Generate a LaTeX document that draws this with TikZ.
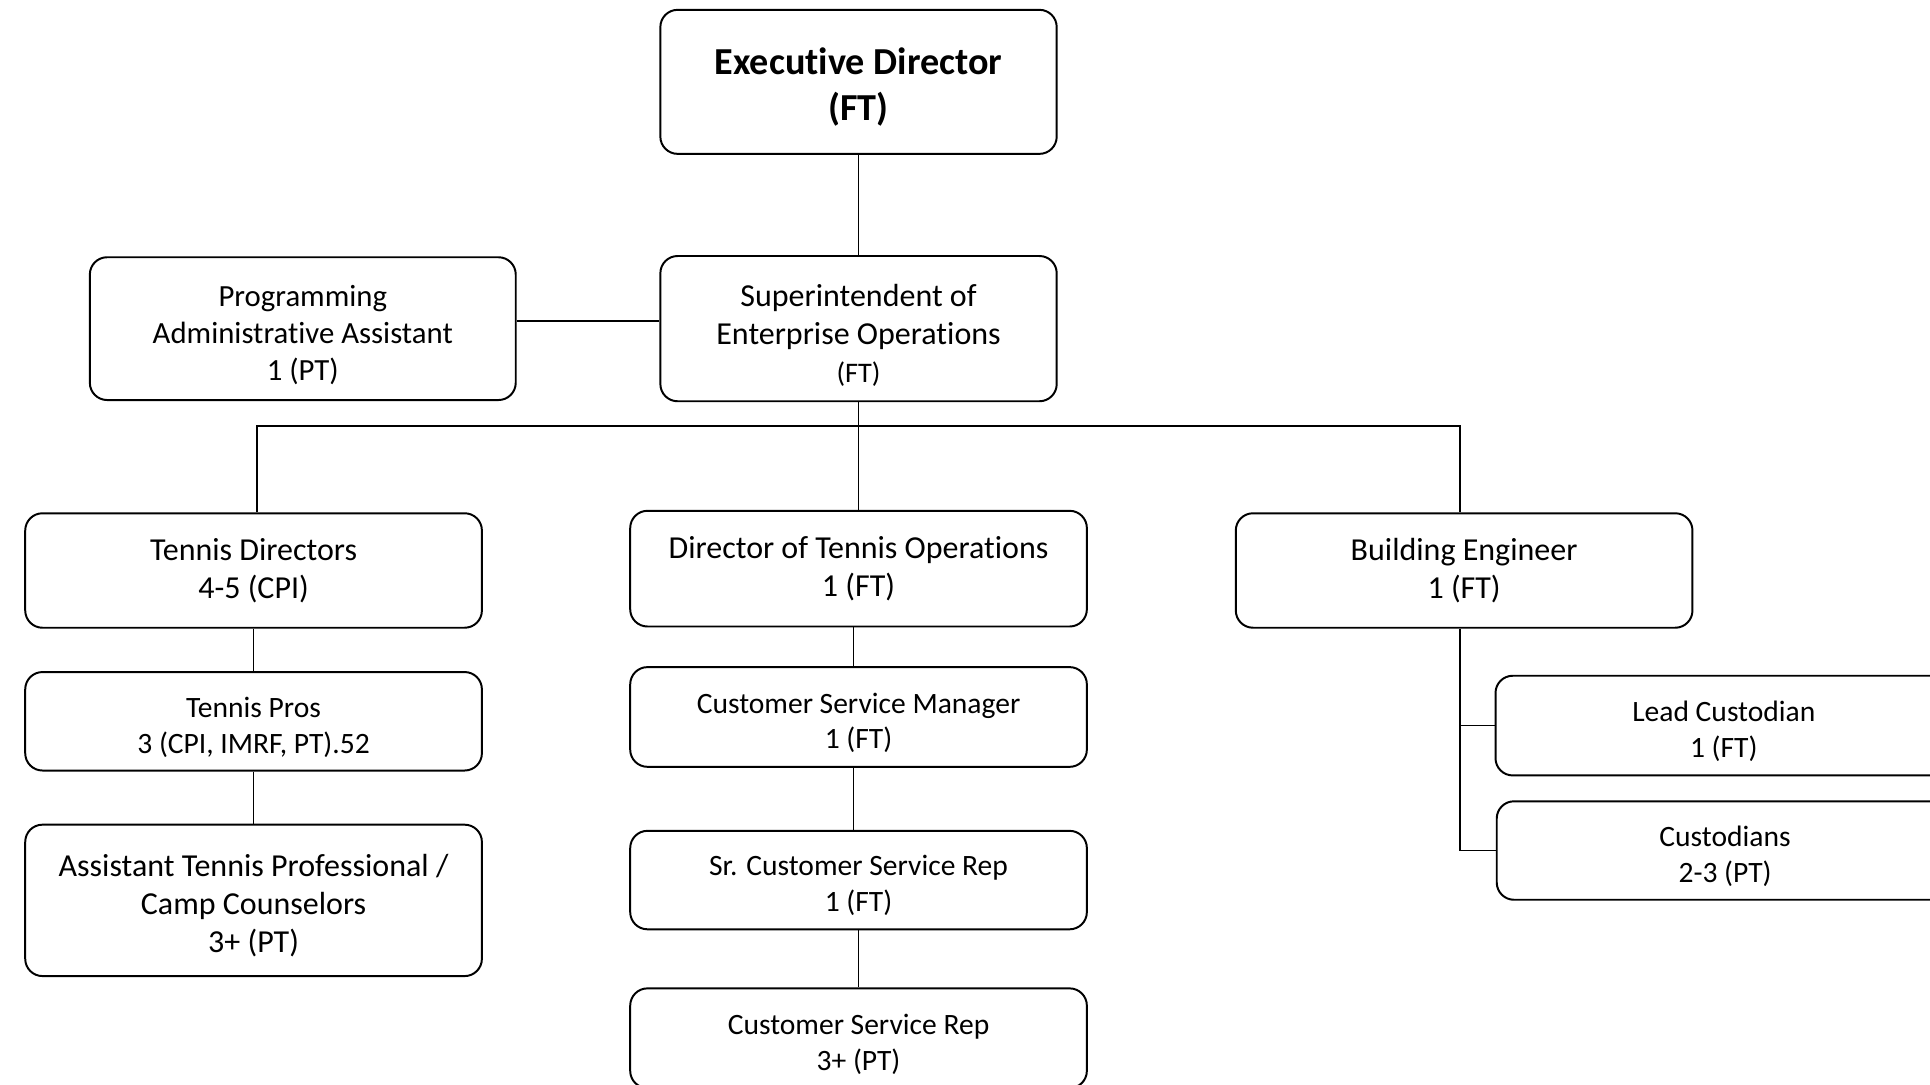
\documentclass[tikz,border=0pt]{standalone}
\usepackage{fontspec}
\setmainfont{Carlito}[Ligatures={NoCommon,NoRare,NoContextual}]
\usetikzlibrary{positioning}
\newcommand{\topgap}[1]{\rule{0pt}{#1}}

\begin{document}
\begin{tikzpicture}[x=0.5pt,y=-0.5pt,
		box/.style={draw,rounded corners=7pt,line width=0.8pt,align=center,
			minimum width=185.5pt,inner sep=2pt,font=\fontsize{13}{15.5}\selectfont},
		small/.style={font=\fontsize{12}{14.5}\selectfont},
		link/.style={line width=0.7pt}]
		\useasboundingbox (0,0) rectangle (1568,880.7);

		\node[box,minimum width=161pt,minimum height=58.5pt,
			font=\bfseries\fontsize{15.5}{19}\selectfont] (exec) at (697.5,66.5) {\topgap{15pt}Executive Director\\(FT)};
		\node[box,minimum width=161pt,minimum height=59pt] (super) at (697.5,267)
			{\topgap{14.5pt}Superintendent of\\Enterprise Operations\\{\fontsize{11.5}{14}\selectfont (FT)}};
		\node[box,minimum width=173pt,minimum height=58pt,
			font=\fontsize{12.5}{15}\selectfont] (progadmin) at (246,267) {\topgap{13.5pt}Programming\\Administrative Assistant\\1 (PT)};

		\node[box,minimum height=46.5pt] (tdir) at (206,463.5) {Tennis Directors\\4-5 (CPI)};
		\node[box,minimum height=47pt] (dto) at (697.5,462) {Director of Tennis Operations\\1 (FT)};
		\node[box,minimum height=46.5pt] (beng) at (1189.5,463.5) {Building Engineer\\1 (FT)};

		\node[box,small,minimum height=40pt] (tpros) at (206,586) {\topgap{13pt}Tennis Pros\\3 (CPI, IMRF, PT).52};
		\node[box,minimum height=61.5pt] (atp) at (206,731.5) {\topgap{13pt}Assistant Tennis Professional /\\Camp Counselors\\3+ (PT)};

		\node[box,small,minimum height=40.5pt] (csm) at (697.5,582.5) {\topgap{13pt}Customer Service Manager\\1 (FT)};
		\node[box,small,minimum height=40pt] (scsr) at (697.5,715) {\topgap{12.5pt}Sr. Customer Service Rep\\1 (FT)};
		\node[box,small,minimum height=40.5pt] (csr) at (697.5,843.5) {\topgap{13pt}Customer Service Rep\\3+ (PT)};

		\node[box,small,minimum height=40.5pt] (lead) at (1400.5,589.5) {\topgap{13pt}Lead Custodian\\1 (FT)};
		\node[box,small,minimum height=40pt] (cust) at (1401.5,691) {\topgap{13pt}Custodians\\2-3 (PT)};

		\coordinate (busL) at (209,346);
		\coordinate (busR) at (1186,346);

		\path[link] (exec) edge (super)
		([yshift=3pt]progadmin.east) edge ([yshift=3pt]super.west)
		(super) edge (dto)
		(tdir) edge (tpros)
		(tpros) edge (atp)
		([xshift=-2pt]dto.south) edge ([xshift=-2pt]csm.north)
		([xshift=-2pt]csm.south) edge ([xshift=-2pt]scsr.north)
		(scsr) edge (csr);
		\draw[link] (tdir.north -| busL) -- (busL) -- (busR) -- (beng.north -| busR);
		\draw[link] (beng.south -| busR) -- (busR |- cust.west) -- (cust.west);
		\draw[link] (busR |- lead.west) -- (lead.west);
	\end{tikzpicture}
\end{document}
